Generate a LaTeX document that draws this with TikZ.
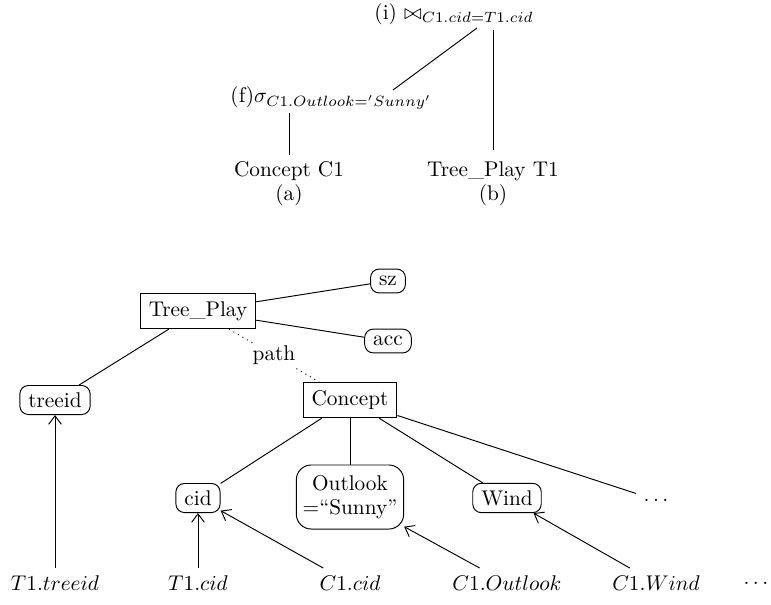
\documentclass[tikz,border=0pt]{standalone}
\usetikzlibrary{arrows.meta}
\begin{document}
\begin{tikzpicture}[x=0.47pt,y=-0.47pt, line width=0.45pt,
  rectbox/.style={draw, rectangle, inner xsep=4pt, inner ysep=3.8pt},
  rbox/.style={draw, rounded corners=4pt, inner xsep=4pt, inner ysep=3.3pt},
  lbl/.style={inner sep=0pt},
  arr/.style={-{Straight Barb[length=4pt,width=6pt]}},
]
\useasboundingbox (0,0) rectangle (771,605);
% top expression tree
\node[lbl, anchor=west] (join) at (374,14) {(i) $\bowtie_{C1.cid=T1.cid}$};
\node[lbl, anchor=west] (sigma) at (230,98) {(f)$\sigma_{C1.Outlook='Sunny'}$};
\node[lbl] (cc1) at (289,171) {Concept C1};
\node[lbl] (a) at (289,195) {(a)};
\node[lbl] (tp1) at (493,171) {Tree\_Play T1};
\node[lbl] (b) at (493,195) {(b)};
\coordinate (jl) at (477,28);
\coordinate (sr) at (393,90);
\coordinate (jr) at (493,30);
\coordinate (sb) at (289,113);
\draw (jl) -- (sr);
\draw (jr) -- ([yshift=5pt]tp1.north);
\draw (sb) -- ([yshift=3pt]cc1.north);
% bottom schema tree
\node[rectbox] (tree) at (198,311) {Tree\_Play};
\node[rbox] (sz) at (388,281) {sz};
\node[rbox] (acc) at (388,341) {acc};
\node[rbox] (treeid) at (55,400) {treeid};
\node[rectbox] (concept) at (350,400) {Concept};
\node[rbox] (cid) at (198,498) {cid};
\node[rbox, align=center, inner ysep=5pt, inner xsep=3pt, rounded corners=7pt] (outlook) at (350,497) {Outlook\\[-1pt]$=$``Sunny''};
\node[rbox] (wind) at (507,498) {Wind};
\node (dots) at (656,500) {$\ldots$};
\node (l1) at (55,583) {$T1.treeid$};
\node (l2) at (198,583) {$T1.cid$};
\node (l3) at (350,583) {$C1.cid$};
\node (l4) at (507,583) {$C1.Outlook$};
\node (l5) at (656,583) {$C1.Wind$};
\node[anchor=east, inner xsep=1pt] (l6) at (771,583) {$\ldots$};
\draw (tree) -- (sz);
\draw (tree) -- (acc);
\draw (tree) -- (treeid);
\draw[dotted] (tree) -- node[fill=white, inner sep=1pt] {path} (concept);
\draw (concept) -- (cid);
\draw (concept) -- (outlook);
\draw (concept) -- (wind);
\draw (concept) -- (dots);
\draw[arr] (l1) -- (treeid);
\draw[arr] (l2) -- (cid);
\draw[arr] (l3) -- (cid);
\draw[arr] (l4) -- (outlook);
\draw[arr] (l5) -- (wind);
\end{tikzpicture}
\end{document}
